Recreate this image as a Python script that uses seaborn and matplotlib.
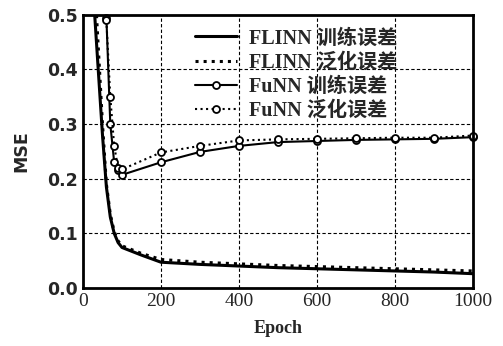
import numpy as np
import pandas as pd
import matplotlib
matplotlib.use('Agg')
import matplotlib.pyplot as plt
import seaborn as sns

# data
flinn_epoch = [10, 30, 40, 50, 60, 70, 80, 90, 100, 150, 200, 300, 400, 500, 600, 700, 800, 900, 1000]
flinn_train = [1.2, 0.50, 0.39, 0.28, 0.185, 0.13, 0.10, 0.083, 0.074, 0.060, 0.047, 0.043, 0.040, 0.037, 0.035, 0.033, 0.031, 0.029, 0.026]
flinn_test = [1.3, 0.56, 0.43, 0.30, 0.19, 0.135, 0.103, 0.086, 0.077, 0.063, 0.052, 0.047, 0.044, 0.041, 0.039, 0.037, 0.035, 0.033, 0.031]

funn_epoch = [60, 70, 80, 90, 100, 200, 300, 400, 500, 600, 700, 800, 900, 1000]
funn_train = [0.495, 0.30, 0.23, 0.215, 0.207, 0.230, 0.249, 0.260, 0.267, 0.269, 0.271, 0.272, 0.273, 0.276]
funn_test = [0.49, 0.35, 0.26, 0.22, 0.217, 0.248, 0.260, 0.270, 0.272, 0.273, 0.274, 0.275, 0.275, 0.279]

labels = ['FLINN 训练误差', 'FLINN 泛化误差', 'FuNN 训练误差', 'FuNN 泛化误差']

sns.set_style('white')
plt.rcParams['font.family'] = ['DejaVu Sans', 'Noto Sans CJK SC']

fig = plt.figure(figsize=(5.03, 3.46), dpi=100)
ax = fig.add_axes([0.165, 0.168, 0.775, 0.789])

sns.lineplot(x=flinn_epoch, y=flinn_train, ax=ax, color='black', lw=2.2, label=labels[0])
sns.lineplot(x=flinn_epoch, y=flinn_test, ax=ax, color='black', lw=2.2, linestyle=':', label=labels[1])
sns.lineplot(x=funn_epoch, y=funn_train, ax=ax, color='black', lw=1.5, marker='o', ms=5,
             mfc='white', mec='black', mew=1.3, label=labels[2], clip_on=False)
sns.lineplot(x=funn_epoch, y=funn_test, ax=ax, color='black', lw=1.5, linestyle=':', marker='o', ms=5,
             mfc='white', mec='black', mew=1.3, label=labels[3], clip_on=False)

ax.set_xlim(0, 1000)
ax.set_ylim(0, 0.5)
ax.set_xticks([0, 200, 400, 600, 800, 1000])
ax.set_yticks([0.0, 0.1, 0.2, 0.3, 0.4, 0.5])
ax.set_yticklabels(['0.0', '0.1', '0.2', '0.3', '0.4', '0.5'])
ax.grid(True, color='black', linestyle=(0, (3, 2)), lw=0.8)
ax.tick_params(length=0, pad=4)
for lab in ax.get_xticklabels():
    lab.set_fontfamily('Liberation Serif')
    lab.set_fontsize(14)
for lab in ax.get_yticklabels():
    lab.set_fontsize(12.5)
    lab.set_fontweight('bold')
for sp in ax.spines.values():
    sp.set_linewidth(2)
    sp.set_color('black')

ax.set_xlabel('Epoch', fontfamily='Liberation Serif', fontsize=13, fontweight='bold', labelpad=7)
ax.set_ylabel('MSE', fontsize=12.5, fontweight='bold', labelpad=12)

leg = ax.legend(loc='upper left', bbox_to_anchor=(0.287, 0.95), frameon=False, handlelength=2.1,
                handletextpad=0.6, labelspacing=0.2, borderpad=0, borderaxespad=0,
                prop={'family': ['Liberation Serif', 'Noto Sans CJK SC'], 'weight': 'bold', 'size': 14.5})

fig.savefig('out.png', dpi=100)
